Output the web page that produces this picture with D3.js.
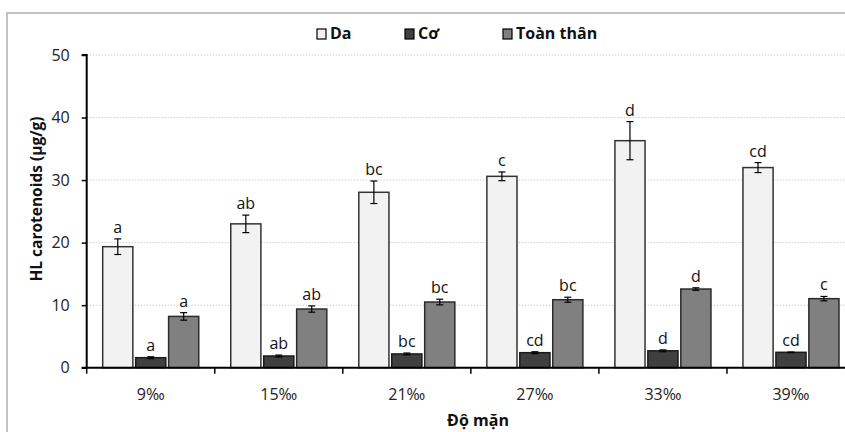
<!DOCTYPE html>
<html>
<head>
  <meta charset="utf-8">
  <style>
    body { margin: 0; padding: 0; background: #fff; }
    svg { display: block; font-family: "Open Sans", sans-serif; }
  </style>
</head>
<body>
  <div id="chart"></div>
  <script src="https://cdnjs.cloudflare.com/ajax/libs/d3/7.8.5/d3.min.js"></script>
  <script>
    // values
    const salinity = ['9‰', '15‰', '21‰', '27‰', '33‰', '39‰'];
    const seriesNames = ['Da', 'Cơ', 'Toàn thân'];
    const daValues = [19.35, 23.0, 28.05, 30.6, 36.3, 32.0];
    const daErrors = [1.25, 1.4, 1.8, 0.7, 3.05, 0.8];
    const coValues = [1.6, 1.87, 2.2, 2.4, 2.7, 2.46];
    const coErrors = [0.15, 0.15, 0.15, 0.15, 0.15, 0.05];
    const ttValues = [8.2, 9.38, 10.5, 10.87, 12.58, 11.04];
    const ttErrors = [0.6, 0.5, 0.45, 0.4, 0.2, 0.35];
    const daLetters = ['a', 'ab', 'bc', 'c', 'd', 'cd'];
    const coLetters = ['a', 'ab', 'bc', 'cd', 'd', 'cd'];
    const ttLetters = ['a', 'ab', 'bc', 'bc', 'd', 'c'];
    const yTicks = [0, 10, 20, 30, 40, 50];

    const width = 845, height = 432;
    const margin = { left: 86.7, right: -10, top: 55, bottom: 64.3 };

    const svg = d3.select('#chart').append('svg')
      .attr('width', width)
      .attr('height', height);

    // outer frame (cropped on right and bottom)
    svg.append('rect')
      .attr('x', 7).attr('y', 13)
      .attr('width', 900).attr('height', 500)
      .attr('fill', 'none')
      .attr('stroke', '#c3c3c3')
      .attr('stroke-width', 2);

    const x0 = d3.scaleBand()
      .domain(salinity)
      .range([margin.left, width - margin.right]);

    const bw = x0.bandwidth();
    const x1 = d3.scaleBand()
      .domain(seriesNames)
      .range([bw * 0.125, bw * 0.875])
      .paddingInner(0.085);

    const y = d3.scaleLinear()
      .domain([0, 50])
      .range([height - margin.bottom, margin.top]);

    const fills = { 'Da': '#f2f2f2', 'Cơ': '#404040', 'Toàn thân': '#808080' };
    const strokes = { 'Da': '#333', 'Cơ': '#1a1a1a', 'Toàn thân': '#2b2b2b' };

    // gridlines
    svg.append('g')
      .selectAll('line')
      .data(yTicks.filter(d => d > 0))
      .enter().append('line')
      .attr('x1', margin.left).attr('x2', width)
      .attr('y1', d => y(d)).attr('y2', d => y(d))
      .attr('stroke', '#cfcfcf')
      .attr('stroke-width', 1)
      .attr('stroke-dasharray', '1.5,1.5');

    const rows = [];
    salinity.forEach((s, i) => {
      rows.push({ cat: s, key: 'Da', v: daValues[i], e: daErrors[i], l: daLetters[i] });
      rows.push({ cat: s, key: 'Cơ', v: coValues[i], e: coErrors[i], l: coLetters[i] });
      rows.push({ cat: s, key: 'Toàn thân', v: ttValues[i], e: ttErrors[i], l: ttLetters[i] });
    });

    const bars = svg.append('g').selectAll('g')
      .data(rows)
      .enter().append('g')
      .attr('transform', d => `translate(${x0(d.cat) + x1(d.key)},0)`);

    bars.append('rect')
      .attr('x', 0)
      .attr('y', d => y(d.v))
      .attr('width', x1.bandwidth())
      .attr('height', d => y(0) - y(d.v))
      .attr('fill', d => fills[d.key])
      .attr('stroke', d => strokes[d.key])
      .attr('stroke-width', 1.5);

    // error bars
    const cx = x1.bandwidth() / 2;
    bars.append('line')
      .attr('x1', cx).attr('x2', cx)
      .attr('y1', d => y(d.v + d.e)).attr('y2', d => y(d.v - d.e))
      .attr('stroke', '#000').attr('stroke-width', 1.2);
    bars.append('line')
      .attr('x1', cx - 3.5).attr('x2', cx + 3.5)
      .attr('y1', d => y(d.v + d.e)).attr('y2', d => y(d.v + d.e))
      .attr('stroke', '#000').attr('stroke-width', 1.2);
    bars.append('line')
      .attr('x1', cx - 3.5).attr('x2', cx + 3.5)
      .attr('y1', d => y(d.v - d.e)).attr('y2', d => y(d.v - d.e))
      .attr('stroke', '#000').attr('stroke-width', 1.2);

    // letters
    bars.append('text')
      .attr('x', cx)
      .attr('y', d => y(d.v + d.e) - 6)
      .attr('text-anchor', 'middle')
      .attr('font-size', '16px')
      .attr('fill', '#111')
      .text(d => d.l);

    // y axis
    const yAxis = svg.append('g')
      .attr('transform', `translate(${margin.left},0)`)
      .call(d3.axisLeft(y).tickValues(yTicks).tickSize(5).tickPadding(12));
    yAxis.select('.domain').attr('stroke', '#000').attr('stroke-width', 2)
      .attr('d', `M-5,${y(50)}H0V${y(0)}`);
    yAxis.selectAll('.tick line').attr('stroke', '#000').attr('stroke-width', 1.5);
    yAxis.selectAll('.tick text')
      .attr('font-size', '16px')
      .attr('fill', '#222')
      .attr('font-family', '"Open Sans", sans-serif');

    // x axis, ticks at band boundaries
    const xAxis = svg.append('g')
      .attr('transform', `translate(0,${y(0)})`);
    xAxis.append('line')
      .attr('x1', margin.left - 5).attr('x2', width)
      .attr('stroke', '#000').attr('stroke-width', 2);
    xAxis.selectAll('.bt')
      .data(salinity)
      .enter().append('line')
      .attr('x1', d => x0(d)).attr('x2', d => x0(d))
      .attr('y1', 0).attr('y2', 6)
      .attr('stroke', '#000').attr('stroke-width', 1.5);
    xAxis.selectAll('.lbl')
      .data(salinity)
      .enter().append('text')
      .attr('x', d => x0(d) + bw / 2)
      .attr('y', 32)
      .attr('text-anchor', 'middle')
      .attr('font-size', '16px')
      .attr('fill', '#222')
      .text(d => d);

    // axis titles
    svg.append('text')
      .attr('x', 478).attr('y', 426)
      .attr('text-anchor', 'middle')
      .attr('font-size', '16px')
      .attr('font-weight', 'bold')
      .attr('fill', '#111')
      .text('Độ mặn');

    svg.append('text')
      .attr('transform', 'translate(42,199) rotate(-90)')
      .attr('text-anchor', 'middle')
      .attr('font-size', '15.5px')
      .attr('font-weight', 'bold')
      .attr('fill', '#111')
      .text('HL carotenoids (µg/g)');

    // legend
    const legendX = [317, 405, 503];
    const legend = svg.append('g').selectAll('g')
      .data(seriesNames)
      .enter().append('g')
      .attr('transform', (d, i) => `translate(${legendX[i]},29)`);
    legend.append('rect')
      .attr('width', 9).attr('height', 10)
      .attr('fill', d => fills[d])
      .attr('stroke', '#000').attr('stroke-width', 1.2);
    legend.append('text')
      .attr('x', 13).attr('y', 10)
      .attr('font-size', '16px')
      .attr('font-weight', 'bold')
      .attr('fill', '#111')
      .text(d => d);
  </script>
</body>
</html>
